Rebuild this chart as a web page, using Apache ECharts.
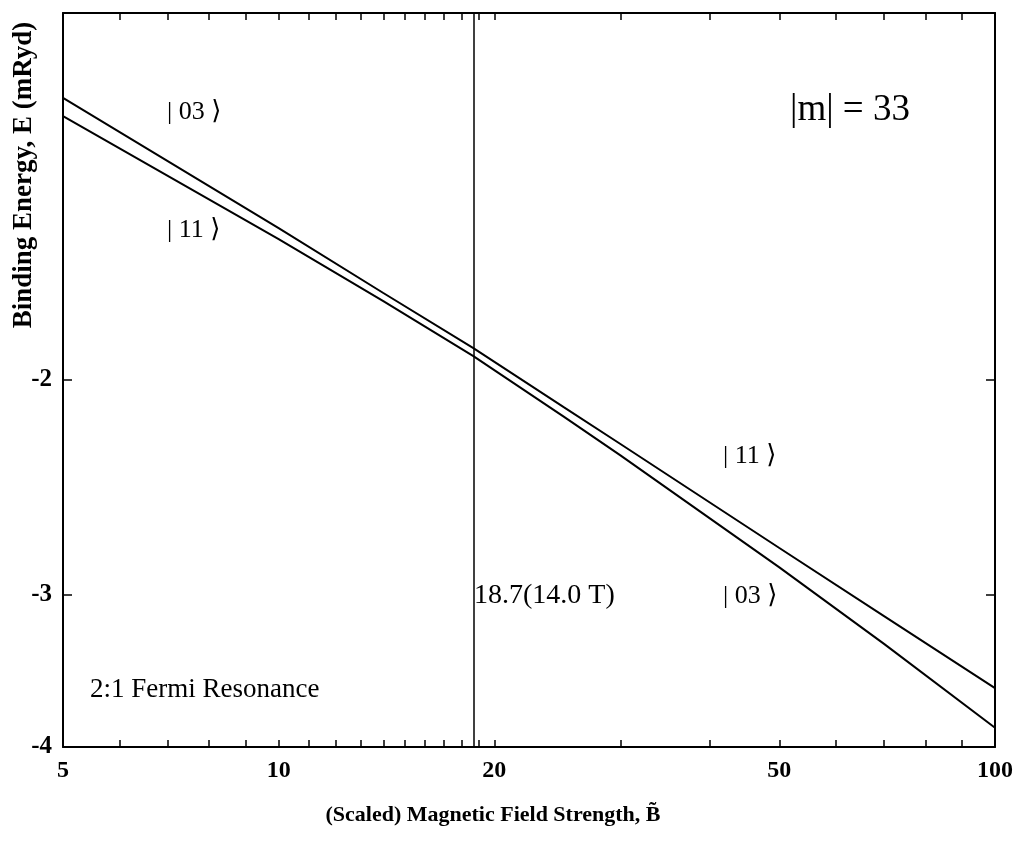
<!DOCTYPE html>
<html>
<head>
<meta charset="utf-8">
<script src="https://cdn.jsdelivr.net/npm/echarts@6/dist/echarts.min.js"></script>
<style>
  html, body { margin: 0; background: #fff; }
  #main { width: 1022px; height: 852px; }
</style>
</head>
<body>
<div id="main"></div>
<script>
// scaled field strength (log axis)
const fieldB = [5, 10, 14, 18.7, 25, 30, 50, 70, 100];
// binding energies (mRyd)
const energyUpper = [-1.174, -1.501, -1.697, -1.883, -2.105, -2.257, -2.747, -3.124, -3.579];
const energyLower = [-1.215, -1.533, -1.723, -1.912, -2.143, -2.306, -2.849, -3.292, -3.857];
// resonance position
const resonanceB = 18.7;
// axis ticks / labels
const xLabelValues = [5, 10, 20, 50, 100];
const xTickValues = [6, 7, 8, 9, 10, 11, 12, 13, 14, 15, 16, 17, 18, 19, 20, 30, 40, 50, 60, 70, 80, 90];
const yLabelValues = [2, 3, 4];
const yTickValues = [2, 3];

const FONT = "'Liberation Serif', 'DejaVu Serif', serif";

const chart = echarts.init(document.getElementById("main"));

// axis common bits
const frameLine = { show: true, onZero: false, lineStyle: { color: "#000", width: 2 } };
const xAxisBase = {
  type: "log",
  logBase: 10,
  min: 5,
  max: 100,
  axisLine: frameLine,
  splitLine: { show: false },
  minorTick: { show: false },
  axisTick: { show: true, inside: true, length: 7, customValues: xTickValues, lineStyle: { color: "#000", width: 1.5 } },
};
const yAxisBase = {
  type: "log",
  logBase: 10,
  min: 1,
  max: 4,
  inverse: true,
  axisLine: frameLine,
  splitLine: { show: false },
  minorTick: { show: false },
  axisTick: { show: true, inside: true, length: 9, customValues: yTickValues, lineStyle: { color: "#000", width: 1.5 } },
};

const toPoints = (xs, ys) => xs.map((b, i) => [b, -ys[i]]);

// free text in the plot
const note = (x, y, text, size) => ({
  type: "text",
  x: x,
  y: y,
  style: { text: text, font: size + "px " + FONT, fill: "#000", verticalAlign: "middle" },
});

const option = {
  animation: false,
  backgroundColor: "#fff",
  grid: { left: 63, right: 27, top: 13, bottom: 105, containLabel: false },
  xAxis: [
    Object.assign({}, xAxisBase, {
      position: "bottom",
      axisLabel: {
        show: true,
        customValues: xLabelValues,
        margin: 12,
        color: "#000",
        fontFamily: FONT,
        fontSize: 24,
        fontWeight: "bold",
      },
    }),
    Object.assign({}, xAxisBase, {
      position: "top",
      axisLabel: { show: false },
    }),
  ],
  yAxis: [
    Object.assign({}, yAxisBase, {
      position: "left",
      axisLabel: {
        show: true,
        customValues: yLabelValues,
        margin: 11,
        color: "#000",
        fontFamily: FONT,
        fontSize: 25,
        fontWeight: "bold",
        formatter: (v) => "-" + v,
      },
    }),
    Object.assign({}, yAxisBase, {
      position: "right",
      axisLabel: { show: false },
    }),
  ],
  series: [
    {
      name: "upper branch",
      type: "line",
      xAxisIndex: 0,
      yAxisIndex: 0,
      data: toPoints(fieldB, energyUpper),
      showSymbol: false,
      lineStyle: { color: "#000", width: 2 },
      markLine: {
        silent: true,
        symbol: ["none", "none"],
        label: { show: false },
        lineStyle: { color: "#000", width: 1.5, type: "solid" },
        data: [{ xAxis: resonanceB }],
      },
    },
    {
      name: "lower branch",
      type: "line",
      xAxisIndex: 0,
      yAxisIndex: 0,
      data: toPoints(fieldB, energyLower),
      showSymbol: false,
      lineStyle: { color: "#000", width: 2 },
    },
  ],
  graphic: [
    note(167, 112, "| 03 \u27E9", 26),
    note(167, 230, "| 11 \u27E9", 26),
    note(790, 110, "|m| = 33", 37),
    note(723, 456, "| 11 \u27E9", 26),
    note(723, 596, "| 03 \u27E9", 26),
    note(474, 596, "18.7(14.0 T)", 28),
    note(90, 690, "2:1 Fermi Resonance", 27),
    {
      type: "text",
      x: 11,
      y: 175,
      rotation: Math.PI / 2,
      style: { text: "Binding Energy, E (mRyd)", font: "bold 27px " + FONT, fill: "#000", align: "center", verticalAlign: "top" },
    },
    {
      type: "text",
      x: 493,
      y: 815,
      style: { text: "(Scaled) Magnetic Field Strength, B\u0303", font: "bold 22px " + FONT, fill: "#000", align: "center", verticalAlign: "middle" },
    },
  ],
};

chart.setOption(option);
</script>
</body>
</html>
